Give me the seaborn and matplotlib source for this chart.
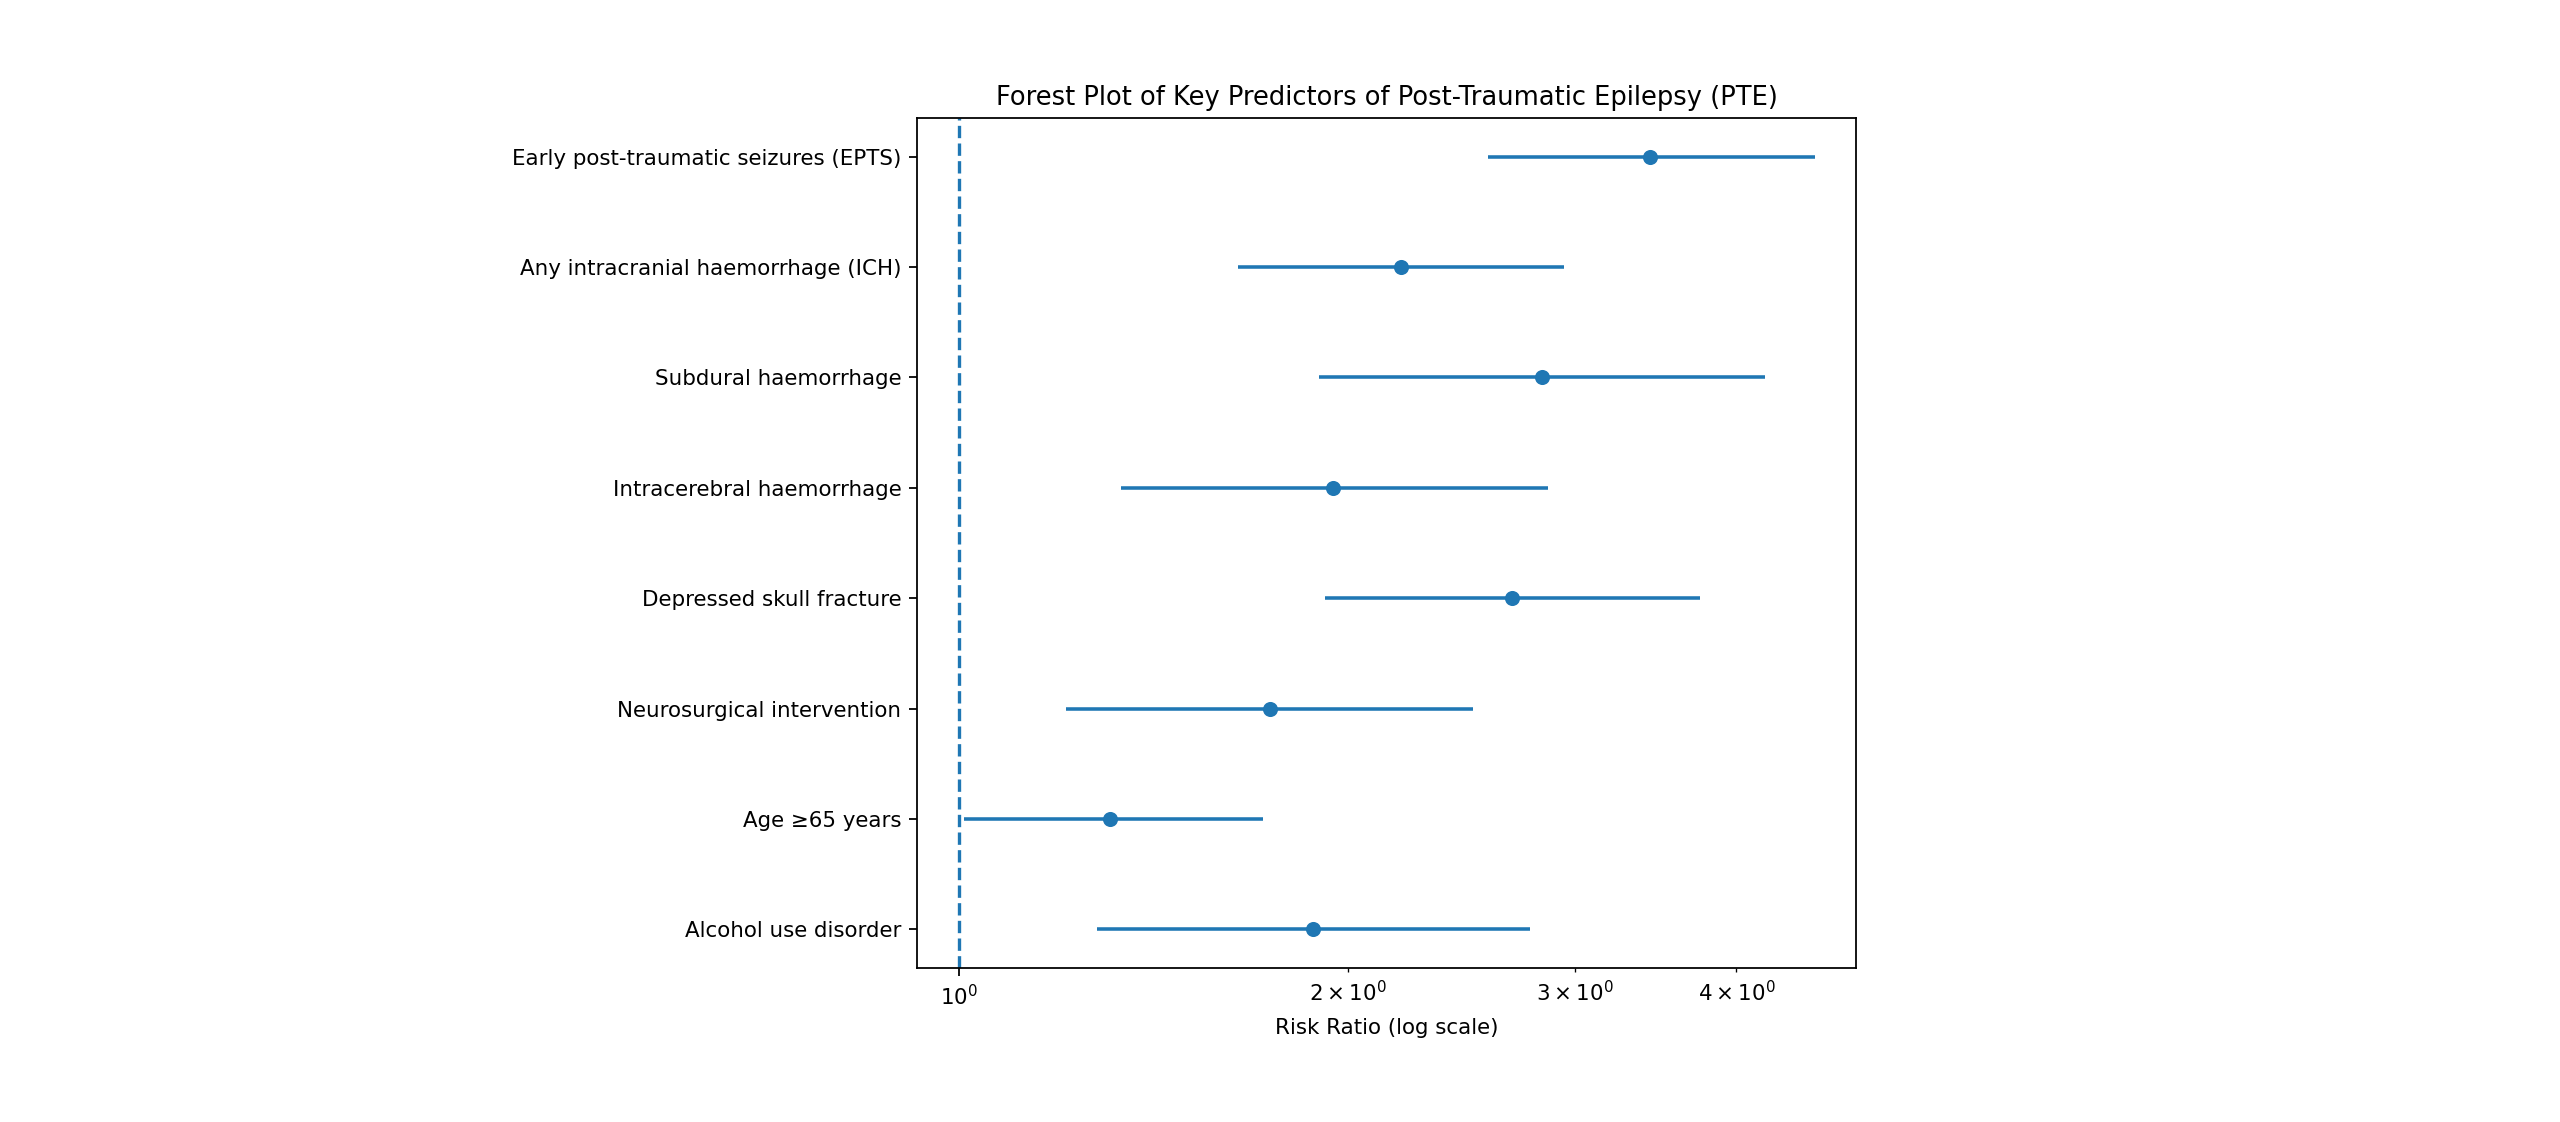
import numpy as np
import pandas as pd
import matplotlib
matplotlib.use("Agg")
import matplotlib.pyplot as plt
import seaborn as sns

# Predictors, top to bottom
predictors = [
    "Early post-traumatic seizures (EPTS)",
    "Any intracranial haemorrhage (ICH)",
    "Subdural haemorrhage",
    "Intracerebral haemorrhage",
    "Depressed skull fracture",
    "Neurosurgical intervention",
    "Age \u226565 years",
    "Alcohol use disorder",
]
risk_ratio = [3.43, 2.20, 2.83, 1.95, 2.68, 1.74, 1.31, 1.88]
ci_lower = [2.57, 1.645, 1.90, 1.335, 1.92, 1.21, 1.01, 1.28]
ci_upper = [4.60, 2.94, 4.21, 2.86, 3.75, 2.50, 1.72, 2.77]

df = pd.DataFrame({
    "predictor": predictors,
    "rr": risk_ratio,
    "lower": ci_lower,
    "upper": ci_upper,
})

plt.rcParams["font.size"] = 9.65
plt.rcParams["axes.titlesize"] = 11.6

fig = plt.figure(figsize=(16, 7.0125), dpi=160)
ax = fig.add_axes([0.3582, 0.1373, 0.3668, 0.7576])

# CI bars
xerr = [df["rr"] - df["lower"], df["upper"] - df["rr"]]
ax.errorbar(df["rr"], df["predictor"], xerr=xerr, fmt="none",
            ecolor="C0", elinewidth=1.6, capsize=0)

# point estimates (seaborn puts the first category on top)
sns.scatterplot(data=df, x="rr", y="predictor", ax=ax, color="C0",
                s=46, linewidth=0, zorder=3)

ax.axvline(1, linestyle="--", color="C0", linewidth=1.5)
ax.set_xscale("log")
ax.set_xlim(0.928, 4.95)

ax.set_xlabel("Risk Ratio (log scale)")
ax.set_ylabel("")
ax.set_title("Forest Plot of Key Predictors of Post-Traumatic Epilepsy (PTE)")

fig.savefig("out.png", dpi=160)
